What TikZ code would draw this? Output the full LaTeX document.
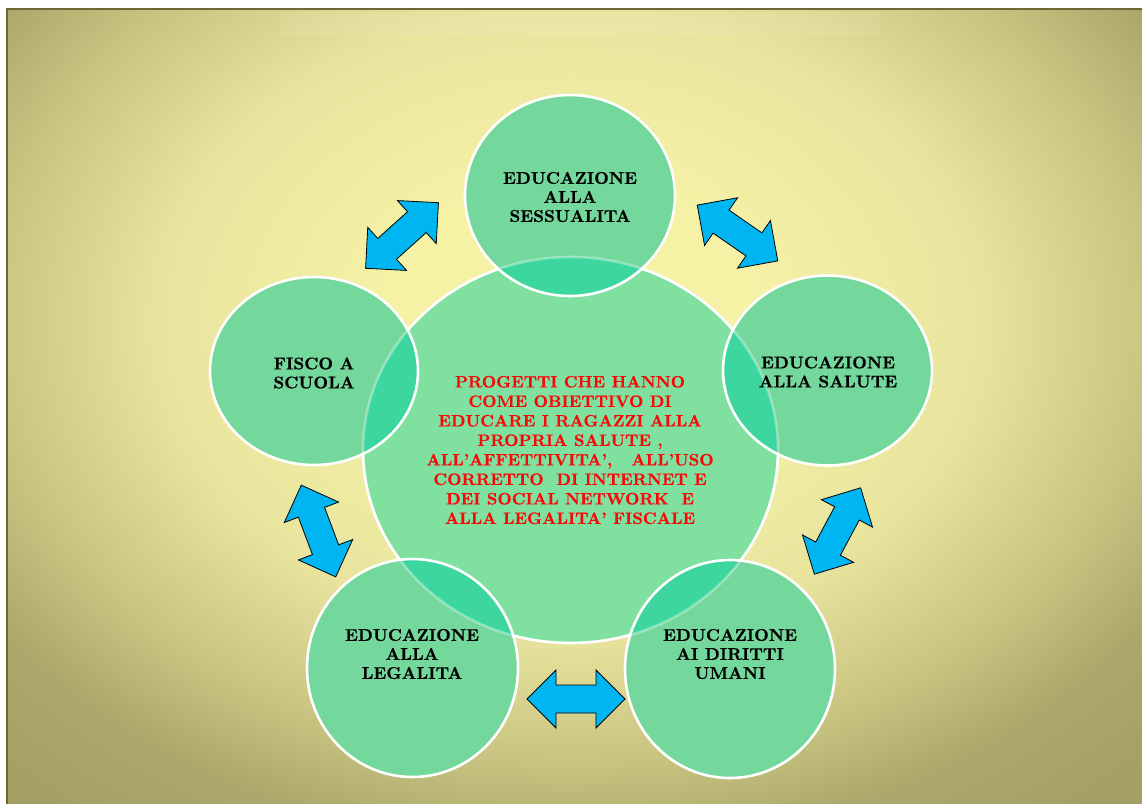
\documentclass[tikz,border=0pt]{standalone}
\usepackage{fontspec}
\newfontface\heavyfont{lmroman10-bold}[Extension=.otf, FakeBold=0.4]
\definecolor{bglight}{RGB}{245,242,166}
\definecolor{bgmidA}{RGB}{232,228,158}
\definecolor{bgmidB}{RGB}{204,200,132}
\definecolor{bgmidC}{RGB}{172,168,107}
\definecolor{bgdark}{RGB}{164,160,100}
\definecolor{cmain}{RGB}{128,224,160}
\definecolor{csat}{RGB}{116,216,156}
\definecolor{cover}{RGB}{60,214,158}
\definecolor{arrowblue}{RGB}{0,182,242}
\definecolor{bordercol}{RGB}{108,106,52}
\definecolor{textred}{RGB}{250,8,8}
\pgfdeclareradialshading{bgshade}{\pgfpoint{0bp}{0bp}}{color(0bp)=(bglight); color(25bp)=(bglight); color(55bp)=(bgmidA); color(75bp)=(bgmidB); color(93bp)=(bgmidC); color(110bp)=(bgdark)}
\tikzset{
  arrowstyle/.style={fill=arrowblue, draw=black, line width=0.8pt, line join=miter},
  dblarrow/.pic={\draw[arrowstyle] (-49,0) -- (-20,29) -- (-20,14) -- (20,14) -- (20,29) -- (49,0) -- (20,-29) -- (20,-14) -- (-20,-14) -- (-20,-29) -- cycle;},
  satfill/.style={fill=csat},
  ring/.style={draw=white, line width=2.6pt},
  sattext/.style={align=center, inner sep=0pt, font=\heavyfont\fontsize{17}{19}\selectfont, text=black},
  centertext/.style={align=center, inner sep=0pt, font=\heavyfont\fontsize{16.6}{19.5}\selectfont, text=textred}
}
\begin{document}
\begin{tikzpicture}[x=1pt,y=-1pt]
\useasboundingbox (0,0) rectangle (1142,803);
\fill[white] (0,0) rectangle (1142,803);
% slide background
\begin{scope}
  \clip (6,8) rectangle (1146,808);
  \fill[bgdark] (6,8) rectangle (1146,808);
  \node[inner sep=0pt, outer sep=0pt, xscale=7.49, yscale=5.65, transform shape] (bgsh) at (570,322) {\pgfuseshading{bgshade}};
\end{scope}
\fill[white, opacity=0.07] (280,12) rectangle (880,36);
\draw[bordercol, line width=2pt] (7,808) -- (7,9) -- (1146,9);
% central circle
\fill[cmain] (570.5,450) ellipse [x radius=207.5, y radius=193];
\draw[ring] (570.5,450) ellipse [x radius=207.5, y radius=193];
% satellites
\foreach \cx/\cy/\rx/\ry in {570/195.5/105/100.5, 827.5/370.5/104.5/95, 314/371/104/94, 412.5/668/105.5/109, 730/669/105/109}{
  \fill[satfill] (\cx,\cy) ellipse [x radius=\rx, y radius=\ry];
}
\begin{scope}
  \clip (570.5,450) ellipse [x radius=207.5, y radius=193];
  \foreach \cx/\cy/\rx/\ry in {570/195.5/105/100.5, 827.5/370.5/104.5/95, 314/371/104/94, 412.5/668/105.5/109, 730/669/105/109}{
    \fill[cover] (\cx,\cy) ellipse [x radius=\rx, y radius=\ry];
  }
\end{scope}
\draw[ring, draw opacity=0.35] (570.5,450) ellipse [x radius=207.5, y radius=193];
\foreach \cx/\cy/\rx/\ry in {570/195.5/105/100.5, 827.5/370.5/104.5/95, 314/371/104/94, 412.5/668/105.5/109, 730/669/105/109}{
  \draw[ring] (\cx,\cy) ellipse [x radius=\rx, y radius=\ry];
}
% texts
\node[centertext] (ctext) at (570,450) {PROGETTI CHE HANNO\\COME OBIETTIVO DI\\EDUCARE I RAGAZZI ALLA\\PROPRIA SALUTE ,\\ALL’AFFETTIVITA’,\ \ \ ALL’USO\\CORRETTO\ \ DI INTERNET E\\DEI SOCIAL NETWORK\ \ E\\ALLA LEGALITA’ FISCALE};
\node[sattext] (tsess) at (570,197) {EDUCAZIONE\\ALLA\\SESSUALITA};
\node[sattext] (tsalute) at (828,372) {EDUCAZIONE\\ALLA SALUTE};
\node[sattext] (tfisco) at (314,373) {FISCO A\\SCUOLA};
\node[sattext] (tlegal) at (412,654) {EDUCAZIONE\\ALLA\\LEGALITA};
\node[sattext] (tdiritti) at (730,654) {EDUCAZIONE\\AI DIRITTI\\UMANI};
% arrows
\pic[rotate=42] (arr1) at (402,235.5) {dblarrow};
\pic[rotate=-34.7] (arr2) at (737.5,233) {dblarrow};
\pic[rotate=61.8] (arr3) at (837.5,531) {dblarrow};
\pic[rotate=-69.4] (arr4) at (318.5,531) {dblarrow};
\pic (arr5) at (576,699) {dblarrow};
\end{tikzpicture}
\end{document}
